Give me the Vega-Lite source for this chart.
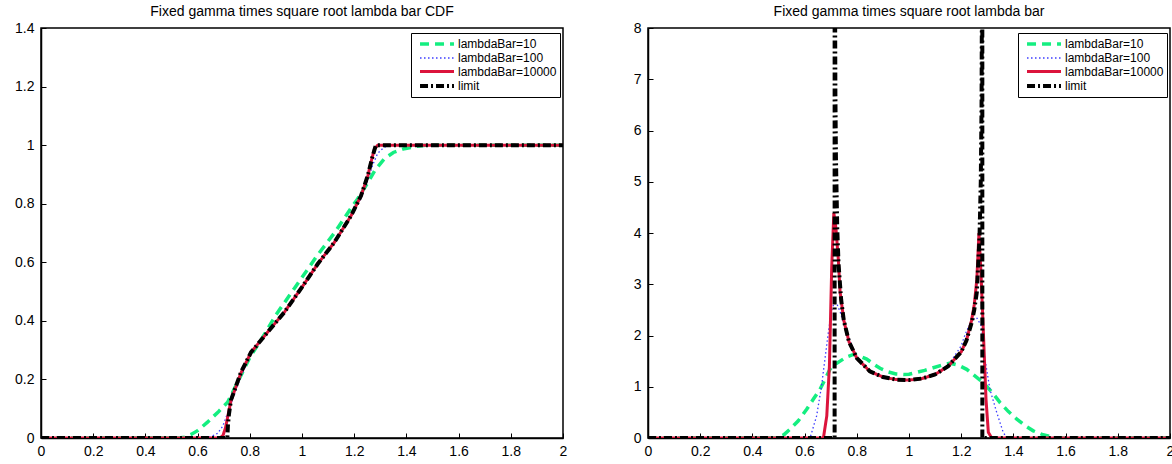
{
  "$schema": "https://vega.github.io/schema/vega-lite/v6.json",
  "background": "white",
  "padding": {"left": 13, "top": 4, "right": 0, "bottom": 0},
  "spacing": 64,
  "config": {
    "font": "Liberation Sans",
    "view": {"stroke": "black", "strokeWidth": 1.5},
    "axis": {"domainColor": "black", "domainWidth": 1.5, "tickColor": "black", "tickSize": -5, "tickWidth": 1, "labelFontSize": 14, "labelFont": "Liberation Sans", "labelColor": "black", "grid": false, "labelFlush": false, "labelOverlap": false},
    "axisX": {"labelPadding": 11},
    "axisY": {"labelPadding": 12},
    "title": {"fontSize": 14, "fontWeight": "normal", "font": "Liberation Sans", "color": "black", "offset": 2},
    "legend": {"strokeColor": "black", "fillColor": "white", "padding": 3, "symbolType": "M-2.83,0H2.83", "symbolSize": 144, "symbolOffset": 15, "labelFontSize": 12, "labelFont": "Liberation Sans", "labelColor": "black", "rowPadding": 0, "labelOffset": 13}
  },
  "datasets": {
    "cdf": [
      {"x":0,"y":0,"s":"lambdaBar=10"},{"x":0.53,"y":0,"s":"lambdaBar=10"},{"x":0.549,"y":0.003,"s":"lambdaBar=10"},{"x":0.575,"y":0.012,"s":"lambdaBar=10"},{"x":0.6,"y":0.025,"s":"lambdaBar=10"},{"x":0.638,"y":0.054,"s":"lambdaBar=10"},{"x":0.68,"y":0.09,"s":"lambdaBar=10"},{"x":0.715,"y":0.122,"s":"lambdaBar=10"},{"x":0.753,"y":0.19,"s":"lambdaBar=10"},{"x":0.8,"y":0.275,"s":"lambdaBar=10"},{"x":0.85,"y":0.345,"s":"lambdaBar=10"},{"x":0.9,"y":0.42,"s":"lambdaBar=10"},{"x":0.97,"y":0.51,"s":"lambdaBar=10"},{"x":1.06,"y":0.625,"s":"lambdaBar=10"},{"x":1.124,"y":0.7,"s":"lambdaBar=10"},{"x":1.188,"y":0.785,"s":"lambdaBar=10"},{"x":1.213,"y":0.816,"s":"lambdaBar=10"},{"x":1.252,"y":0.872,"s":"lambdaBar=10"},{"x":1.28,"y":0.915,"s":"lambdaBar=10"},{"x":1.315,"y":0.953,"s":"lambdaBar=10"},{"x":1.35,"y":0.975,"s":"lambdaBar=10"},{"x":1.392,"y":0.988,"s":"lambdaBar=10"},{"x":1.44,"y":0.996,"s":"lambdaBar=10"},{"x":1.48,"y":1,"s":"lambdaBar=10"},{"x":2,"y":1,"s":"lambdaBar=10"},
      {"x":0,"y":0,"s":"lambdaBar=100"},{"x":0.62,"y":0,"s":"lambdaBar=100"},{"x":0.65,"y":0.004,"s":"lambdaBar=100"},{"x":0.677,"y":0.016,"s":"lambdaBar=100"},{"x":0.696,"y":0.04,"s":"lambdaBar=100"},{"x":0.715,"y":0.085,"s":"lambdaBar=100"},{"x":0.735,"y":0.135,"s":"lambdaBar=100"},{"x":0.766,"y":0.21,"s":"lambdaBar=100"},{"x":0.805,"y":0.29,"s":"lambdaBar=100"},{"x":0.868,"y":0.361,"s":"lambdaBar=100"},{"x":0.932,"y":0.429,"s":"lambdaBar=100"},{"x":1.0,"y":0.515,"s":"lambdaBar=100"},{"x":1.06,"y":0.594,"s":"lambdaBar=100"},{"x":1.124,"y":0.668,"s":"lambdaBar=100"},{"x":1.188,"y":0.757,"s":"lambdaBar=100"},{"x":1.226,"y":0.82,"s":"lambdaBar=100"},{"x":1.252,"y":0.88,"s":"lambdaBar=100"},{"x":1.27,"y":0.93,"s":"lambdaBar=100"},{"x":1.29,"y":0.972,"s":"lambdaBar=100"},{"x":1.315,"y":0.993,"s":"lambdaBar=100"},{"x":1.35,"y":1,"s":"lambdaBar=100"},{"x":2,"y":1,"s":"lambdaBar=100"},
      {"x":0,"y":0,"s":"lambdaBar=10000"},{"x":0.685,"y":0,"s":"lambdaBar=10000"},{"x":0.697,"y":0.008,"s":"lambdaBar=10000"},{"x":0.707,"y":0.035,"s":"lambdaBar=10000"},{"x":0.716,"y":0.075,"s":"lambdaBar=10000"},{"x":0.728,"y":0.128,"s":"lambdaBar=10000"},{"x":0.745,"y":0.17,"s":"lambdaBar=10000"},{"x":0.766,"y":0.222,"s":"lambdaBar=10000"},{"x":0.805,"y":0.293,"s":"lambdaBar=10000"},{"x":0.868,"y":0.361,"s":"lambdaBar=10000"},{"x":0.932,"y":0.429,"s":"lambdaBar=10000"},{"x":1.0,"y":0.515,"s":"lambdaBar=10000"},{"x":1.06,"y":0.594,"s":"lambdaBar=10000"},{"x":1.124,"y":0.668,"s":"lambdaBar=10000"},{"x":1.188,"y":0.759,"s":"lambdaBar=10000"},{"x":1.226,"y":0.827,"s":"lambdaBar=10000"},{"x":1.252,"y":0.894,"s":"lambdaBar=10000"},{"x":1.268,"y":0.955,"s":"lambdaBar=10000"},{"x":1.278,"y":0.988,"s":"lambdaBar=10000"},{"x":1.29,"y":1,"s":"lambdaBar=10000"},{"x":2,"y":1,"s":"lambdaBar=10000"},
      {"x":0,"y":0,"s":"limit"},{"x":0.714,"y":0,"s":"limit"},{"x":0.716,"y":0.04,"s":"limit"},{"x":0.72,"y":0.08,"s":"limit"},{"x":0.728,"y":0.13,"s":"limit"},{"x":0.745,"y":0.172,"s":"limit"},{"x":0.766,"y":0.224,"s":"limit"},{"x":0.805,"y":0.293,"s":"limit"},{"x":0.868,"y":0.361,"s":"limit"},{"x":0.932,"y":0.429,"s":"limit"},{"x":1.0,"y":0.515,"s":"limit"},{"x":1.06,"y":0.594,"s":"limit"},{"x":1.124,"y":0.668,"s":"limit"},{"x":1.188,"y":0.759,"s":"limit"},{"x":1.226,"y":0.827,"s":"limit"},{"x":1.252,"y":0.896,"s":"limit"},{"x":1.27,"y":0.96,"s":"limit"},{"x":1.278,"y":0.985,"s":"limit"},{"x":1.283,"y":1,"s":"limit"},{"x":2,"y":1,"s":"limit"}
    ],
    "pdf": [
      {"x":0,"y":0,"s":"lambdaBar=10"},{"x":0.493,"y":0,"s":"lambdaBar=10"},{"x":0.52,"y":0.06,"s":"lambdaBar=10"},{"x":0.544,"y":0.17,"s":"lambdaBar=10"},{"x":0.575,"y":0.33,"s":"lambdaBar=10"},{"x":0.608,"y":0.56,"s":"lambdaBar=10"},{"x":0.635,"y":0.77,"s":"lambdaBar=10"},{"x":0.659,"y":0.95,"s":"lambdaBar=10"},{"x":0.68,"y":1.16,"s":"lambdaBar=10"},{"x":0.697,"y":1.34,"s":"lambdaBar=10"},{"x":0.715,"y":1.43,"s":"lambdaBar=10"},{"x":0.736,"y":1.5,"s":"lambdaBar=10"},{"x":0.76,"y":1.58,"s":"lambdaBar=10"},{"x":0.787,"y":1.63,"s":"lambdaBar=10"},{"x":0.81,"y":1.6,"s":"lambdaBar=10"},{"x":0.838,"y":1.54,"s":"lambdaBar=10"},{"x":0.862,"y":1.45,"s":"lambdaBar=10"},{"x":0.889,"y":1.36,"s":"lambdaBar=10"},{"x":0.92,"y":1.29,"s":"lambdaBar=10"},{"x":0.95,"y":1.25,"s":"lambdaBar=10"},{"x":0.98,"y":1.24,"s":"lambdaBar=10"},{"x":1.0,"y":1.245,"s":"lambdaBar=10"},{"x":1.029,"y":1.28,"s":"lambdaBar=10"},{"x":1.06,"y":1.32,"s":"lambdaBar=10"},{"x":1.093,"y":1.37,"s":"lambdaBar=10"},{"x":1.125,"y":1.42,"s":"lambdaBar=10"},{"x":1.157,"y":1.46,"s":"lambdaBar=10"},{"x":1.19,"y":1.42,"s":"lambdaBar=10"},{"x":1.221,"y":1.34,"s":"lambdaBar=10"},{"x":1.25,"y":1.22,"s":"lambdaBar=10"},{"x":1.285,"y":1.08,"s":"lambdaBar=10"},{"x":1.32,"y":0.88,"s":"lambdaBar=10"},{"x":1.349,"y":0.69,"s":"lambdaBar=10"},{"x":1.38,"y":0.52,"s":"lambdaBar=10"},{"x":1.413,"y":0.37,"s":"lambdaBar=10"},{"x":1.445,"y":0.24,"s":"lambdaBar=10"},{"x":1.476,"y":0.14,"s":"lambdaBar=10"},{"x":1.51,"y":0.07,"s":"lambdaBar=10"},{"x":1.54,"y":0.03,"s":"lambdaBar=10"},{"x":1.56,"y":0,"s":"lambdaBar=10"},{"x":2,"y":0,"s":"lambdaBar=10"},
      {"x":0,"y":0,"s":"lambdaBar=100"},{"x":0.621,"y":0,"s":"lambdaBar=100"},{"x":0.646,"y":0.43,"s":"lambdaBar=100"},{"x":0.665,"y":1.02,"s":"lambdaBar=100"},{"x":0.678,"y":1.54,"s":"lambdaBar=100"},{"x":0.691,"y":2.06,"s":"lambdaBar=100"},{"x":0.704,"y":2.5,"s":"lambdaBar=100"},{"x":0.715,"y":2.65,"s":"lambdaBar=100"},{"x":0.725,"y":2.6,"s":"lambdaBar=100"},{"x":0.737,"y":2.45,"s":"lambdaBar=100"},{"x":0.752,"y":2.2,"s":"lambdaBar=100"},{"x":0.767,"y":2.0,"s":"lambdaBar=100"},{"x":0.787,"y":1.7,"s":"lambdaBar=100"},{"x":0.8,"y":1.56,"s":"lambdaBar=100"},{"x":0.85,"y":1.3,"s":"lambdaBar=100"},{"x":0.9,"y":1.19,"s":"lambdaBar=100"},{"x":0.95,"y":1.14,"s":"lambdaBar=100"},{"x":1.0,"y":1.13,"s":"lambdaBar=100"},{"x":1.05,"y":1.16,"s":"lambdaBar=100"},{"x":1.1,"y":1.24,"s":"lambdaBar=100"},{"x":1.15,"y":1.41,"s":"lambdaBar=100"},{"x":1.2,"y":1.8,"s":"lambdaBar=100"},{"x":1.215,"y":2.02,"s":"lambdaBar=100"},{"x":1.24,"y":2.3,"s":"lambdaBar=100"},{"x":1.259,"y":2.35,"s":"lambdaBar=100"},{"x":1.278,"y":2.18,"s":"lambdaBar=100"},{"x":1.291,"y":1.54,"s":"lambdaBar=100"},{"x":1.31,"y":0.95,"s":"lambdaBar=100"},{"x":1.336,"y":0.5,"s":"lambdaBar=100"},{"x":1.361,"y":0.11,"s":"lambdaBar=100"},{"x":1.375,"y":0,"s":"lambdaBar=100"},{"x":2,"y":0,"s":"lambdaBar=100"},
      {"x":0,"y":0,"s":"lambdaBar=10000"},{"x":0.672,"y":0,"s":"lambdaBar=10000"},{"x":0.685,"y":0.43,"s":"lambdaBar=10000"},{"x":0.695,"y":1.4,"s":"lambdaBar=10000"},{"x":0.704,"y":3.35,"s":"lambdaBar=10000"},{"x":0.712,"y":4.39,"s":"lambdaBar=10000"},{"x":0.72,"y":4.1,"s":"lambdaBar=10000"},{"x":0.729,"y":3.5,"s":"lambdaBar=10000"},{"x":0.736,"y":2.85,"s":"lambdaBar=10000"},{"x":0.745,"y":2.5,"s":"lambdaBar=10000"},{"x":0.75,"y":2.3,"s":"lambdaBar=10000"},{"x":0.77,"y":1.88,"s":"lambdaBar=10000"},{"x":0.8,"y":1.56,"s":"lambdaBar=10000"},{"x":0.85,"y":1.3,"s":"lambdaBar=10000"},{"x":0.9,"y":1.19,"s":"lambdaBar=10000"},{"x":0.95,"y":1.14,"s":"lambdaBar=10000"},{"x":1.0,"y":1.13,"s":"lambdaBar=10000"},{"x":1.05,"y":1.16,"s":"lambdaBar=10000"},{"x":1.1,"y":1.24,"s":"lambdaBar=10000"},{"x":1.15,"y":1.4,"s":"lambdaBar=10000"},{"x":1.2,"y":1.68,"s":"lambdaBar=10000"},{"x":1.22,"y":1.9,"s":"lambdaBar=10000"},{"x":1.24,"y":2.3,"s":"lambdaBar=10000"},{"x":1.25,"y":2.6,"s":"lambdaBar=10000"},{"x":1.26,"y":3.1,"s":"lambdaBar=10000"},{"x":1.268,"y":4.0,"s":"lambdaBar=10000"},{"x":1.276,"y":3.2,"s":"lambdaBar=10000"},{"x":1.285,"y":2.06,"s":"lambdaBar=10000"},{"x":1.295,"y":0.76,"s":"lambdaBar=10000"},{"x":1.304,"y":0.11,"s":"lambdaBar=10000"},{"x":1.317,"y":0,"s":"lambdaBar=10000"},{"x":2,"y":0,"s":"lambdaBar=10000"},
      {"x":0,"y":0,"s":"limit"},{"x":0.715,"y":0,"s":"limit"},{"x":0.7152,"y":30,"s":"limit"},{"x":0.716,"y":9.5,"s":"limit"},{"x":0.718,"y":6.7,"s":"limit"},{"x":0.72,"y":5.5,"s":"limit"},{"x":0.725,"y":4.1,"s":"limit"},{"x":0.73,"y":3.4,"s":"limit"},{"x":0.74,"y":2.7,"s":"limit"},{"x":0.75,"y":2.3,"s":"limit"},{"x":0.77,"y":1.88,"s":"limit"},{"x":0.8,"y":1.56,"s":"limit"},{"x":0.85,"y":1.3,"s":"limit"},{"x":0.9,"y":1.19,"s":"limit"},{"x":0.95,"y":1.14,"s":"limit"},{"x":1.0,"y":1.13,"s":"limit"},{"x":1.05,"y":1.16,"s":"limit"},{"x":1.1,"y":1.24,"s":"limit"},{"x":1.15,"y":1.4,"s":"limit"},{"x":1.2,"y":1.68,"s":"limit"},{"x":1.22,"y":1.9,"s":"limit"},{"x":1.24,"y":2.25,"s":"limit"},{"x":1.25,"y":2.5,"s":"limit"},{"x":1.26,"y":2.85,"s":"limit"},{"x":1.27,"y":3.9,"s":"limit"},{"x":1.275,"y":5.0,"s":"limit"},{"x":1.278,"y":6.5,"s":"limit"},{"x":1.28,"y":9.5,"s":"limit"},{"x":1.2808,"y":30,"s":"limit"},{"x":1.281,"y":0,"s":"limit"},{"x":2,"y":0,"s":"limit"}
    ]
  },
  "hconcat": [
    {
      "width": 522, "height": 410,
      "title": "Fixed gamma times square root lambda bar CDF",
      "data": {"name": "cdf"},
      "mark": {"type": "line", "clip": true},
      "encoding": {
        "x": {"field": "x", "type": "quantitative", "scale": {"domain": [0, 2], "nice": false, "zero": false}, "axis": {"title": null, "values": [0,0.2,0.4,0.6,0.8,1,1.2,1.4,1.6,1.8,2], "format": "~g"}},
        "y": {"field": "y", "type": "quantitative", "scale": {"domain": [0, 1.4], "nice": false}, "axis": {"title": null, "values": [0,0.2,0.4,0.6,0.8,1,1.2,1.4], "format": "~g"}},
        "color": {"field": "s", "type": "nominal", "title": null, "scale": {"domain": ["lambdaBar=10","lambdaBar=100","lambdaBar=10000","limit"], "range": ["#14ee80","#3a3aff","#dc143c","#000000"]}, "legend": {"orient": "none", "legendX": 370, "legendY": 5}},
        "strokeDash": {"field": "s", "type": "nominal", "title": null, "scale": {"domain": ["lambdaBar=10","lambdaBar=100","lambdaBar=10000","limit"], "range": [[9,6],[1.5,2.5],[1,0],[8,3,2,3]]}, "legend": {"orient": "none", "legendX": 370, "legendY": 5}},
        "strokeWidth": {"field": "s", "type": "nominal", "title": null, "scale": {"type": "ordinal", "domain": ["lambdaBar=10","lambdaBar=100","lambdaBar=10000","limit"], "range": [3.5,1.3,3,4]}, "legend": {"orient": "none", "legendX": 370, "legendY": 5}}
      }
    },
    {
      "width": 522, "height": 410,
      "title": "Fixed gamma times square root lambda bar",
      "data": {"name": "pdf"},
      "mark": {"type": "line", "clip": true},
      "encoding": {
        "x": {"field": "x", "type": "quantitative", "scale": {"domain": [0, 2], "nice": false, "zero": false}, "axis": {"title": null, "values": [0,0.2,0.4,0.6,0.8,1,1.2,1.4,1.6,1.8,2], "format": "~g"}},
        "y": {"field": "y", "type": "quantitative", "scale": {"domain": [0, 8], "nice": false}, "axis": {"title": null, "values": [0,1,2,3,4,5,6,7,8], "format": "~g"}},
        "color": {"field": "s", "type": "nominal", "title": null, "scale": {"domain": ["lambdaBar=10","lambdaBar=100","lambdaBar=10000","limit"], "range": ["#14ee80","#3a3aff","#dc143c","#000000"]}, "legend": {"orient": "none", "legendX": 370, "legendY": 5}},
        "strokeDash": {"field": "s", "type": "nominal", "title": null, "scale": {"domain": ["lambdaBar=10","lambdaBar=100","lambdaBar=10000","limit"], "range": [[9,6],[1.5,2.5],[1,0],[8,3,2,3]]}, "legend": {"orient": "none", "legendX": 370, "legendY": 5}},
        "strokeWidth": {"field": "s", "type": "nominal", "title": null, "scale": {"type": "ordinal", "domain": ["lambdaBar=10","lambdaBar=100","lambdaBar=10000","limit"], "range": [3.5,1.3,3,4]}, "legend": {"orient": "none", "legendX": 370, "legendY": 5}}
      }
    }
  ],
  "resolve": {"scale": {"color": "independent", "strokeDash": "independent", "strokeWidth": "independent"}, "legend": {"color": "independent", "strokeDash": "independent", "strokeWidth": "independent"}}
}
